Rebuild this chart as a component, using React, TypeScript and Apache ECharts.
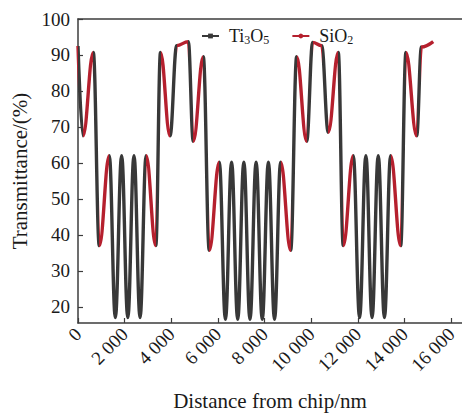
import React, { useEffect, useRef } from 'react';
import * as echarts from 'echarts';

// Turning points of the monitoring curve
const distanceNm = [0, 214, 656, 913, 1341, 1600, 1870, 2135, 2400, 2660, 2920, 3334, 3536, 3943, 4230, 4727, 4941, 5370, 5627, 6056, 6320, 6583, 6846, 7109, 7372, 7635, 7898, 8161, 8424, 8687, 9116, 9373, 9801, 10059, 10444, 10727, 11156, 11370, 11799, 12070, 12340, 12605, 12870, 13135, 13401, 13830, 14057, 14516, 14721, 15227];
const transmittance = [92.5, 67.5, 90.7, 37.0, 62.0, 17.0, 62.0, 17.0, 62.0, 17.0, 62.0, 37.0, 90.7, 67.5, 92.6, 93.7, 66.0, 89.5, 35.7, 60.2, 16.5, 60.2, 16.5, 60.2, 16.5, 60.2, 16.5, 60.2, 16.5, 60.2, 35.7, 89.5, 66.0, 93.5, 92.6, 68.5, 90.7, 37.0, 62.0, 17.0, 62.0, 17.0, 62.0, 17.0, 62.0, 37.0, 90.7, 67.5, 92.2, 93.7];

// Layer structure: index of the last turning point of each layer, and its material
const layerEndIndex = [1, 2, 3, 4, 10, 11, 12, 13, 14, 15, 16, 17, 18, 19, 29, 30, 31, 32, 33, 34, 35, 36, 37, 38, 44, 45, 46, 47, 48, 49];
const layerMaterial = ['Ti3O5', 'SiO2', 'Ti3O5', 'SiO2', 'Ti3O5', 'SiO2', 'Ti3O5', 'SiO2', 'Ti3O5', 'SiO2', 'Ti3O5', 'SiO2', 'Ti3O5', 'SiO2', 'Ti3O5', 'SiO2', 'Ti3O5', 'SiO2', 'Ti3O5', 'SiO2', 'Ti3O5', 'SiO2', 'Ti3O5', 'SiO2', 'Ti3O5', 'SiO2', 'Ti3O5', 'SiO2', 'Ti3O5', 'SiO2'];

const materials = ['Ti3O5', 'SiO2'];
const materialColor: Record<string, string> = { Ti3O5: '#383838', SiO2: '#b5202e' };
const materialSymbol: Record<string, string> = { Ti3O5: 'rect', SiO2: 'circle' };
const materialLabel: Record<string, string> = {
  Ti3O5: '{n|Ti}{s|3}{n|O}{s|5}',
  SiO2: '{n|SiO}{s|2}',
};

const xTickValues = [0, 2000, 4000, 6000, 8000, 10000, 12000, 14000, 16000];
const yTickValues = [20, 30, 40, 50, 60, 70, 80, 90, 100];

const FONT = '"Liberation Serif", "Times New Roman", serif';
const TEXT = '#1a1a1a';
const AXIS = '#3c3c3c';

function fmtThousands(v: number): string {
  if (v < 1000) return String(v);
  const k = Math.floor(v / 1000);
  const r = String(v % 1000).padStart(3, '0');
  return `${k} ${r}`;
}

export default function App() {
  const ref = useRef<HTMLDivElement>(null);
  useEffect(() => {
    document.body.style.margin = '0';
    if (!ref.current) return;
    const chart = echarts.init(ref.current, undefined, { renderer: 'svg' });

    const curve = distanceNm.map((d, i) => [d, transmittance[i]]);
    const pieces = layerEndIndex.map((endIdx, i) => {
      const startIdx = i === 0 ? 0 : layerEndIndex[i - 1];
      const p: any = { gte: distanceNm[startIdx], color: materialColor[layerMaterial[i]] };
      if (i === layerEndIndex.length - 1) p.lte = distanceNm[endIdx] + 1;
      else p.lt = distanceNm[endIdx];
      return p;
    });

    const option: any = {
      animation: false,
      textStyle: { fontFamily: FONT },
      grid: { left: 78, right: 0, top: 19, bottom: 80, containLabel: false },
      legend: {
        data: materials,
        left: 196,
        top: 22,
        itemWidth: 17,
        itemHeight: 6,
        itemGap: 22,
        selectedMode: false,
        formatter: (name: string) => materialLabel[name],
        textStyle: {
          fontFamily: FONT,
          color: TEXT,
          fontSize: 18,
          padding: [0, 0, 0, 5],
          rich: {
            n: { fontFamily: FONT, fontSize: 18, color: TEXT, lineHeight: 20 },
            s: { fontFamily: FONT, fontSize: 12, color: TEXT, lineHeight: 10, verticalAlign: 'bottom' },
          },
        },
      },
      visualMap: {
        type: 'piecewise',
        show: false,
        dimension: 0,
        seriesIndex: 0,
        pieces,
        outOfRange: { color: materialColor.SiO2 },
      },
      xAxis: [
        {
          type: 'value',
          min: 0,
          max: 16460,
          name: 'Distance from chip/nm',
          nameLocation: 'middle',
          nameGap: 67,
          nameTextStyle: { fontFamily: FONT, fontSize: 21, color: TEXT },
          axisLine: { show: true, lineStyle: { color: AXIS, width: 1.5 } },
          axisTick: { show: true, inside: true, length: 5, lineStyle: { color: AXIS, width: 1.2 }, customValues: xTickValues },
          axisLabel: {
            show: true,
            rotate: 45,
            margin: 8,
            fontFamily: FONT,
            fontSize: 19,
            color: TEXT,
            customValues: xTickValues,
            formatter: (v: number) => fmtThousands(v),
          },
          splitLine: { show: false },
        },
        {
          type: 'value',
          position: 'top',
          min: 0,
          max: 16460,
          axisLine: { show: true, onZero: false, lineStyle: { color: AXIS, width: 1.5 } },
          axisTick: { show: false },
          axisLabel: { show: false },
          splitLine: { show: false },
        },
      ],
      yAxis: {
        type: 'value',
        min: 15.5,
        max: 100,
        name: 'Transmittance/(%)',
        nameLocation: 'middle',
        nameGap: 47,
        nameTextStyle: { fontFamily: FONT, fontSize: 21, color: TEXT },
        axisLine: { show: true, lineStyle: { color: AXIS, width: 1.5 } },
        axisTick: { show: true, inside: true, length: 5, lineStyle: { color: AXIS, width: 1.2 }, customValues: yTickValues },
        axisLabel: { show: true, margin: 8, fontFamily: FONT, fontSize: 19, color: TEXT, customValues: yTickValues },
        splitLine: { show: false },
      },
      series: [
        {
          name: 'curve',
          type: 'line',
          data: curve,
          showSymbol: false,
          symbol: 'none',
          smooth: 0.4,
          smoothMonotone: 'x',
          lineStyle: { width: 3.4 },
          z: 3,
        },
        ...materials.map((m) => ({
          name: m,
          type: 'line',
          data: [],
          symbol: materialSymbol[m],
          symbolSize: 5,
          itemStyle: { color: materialColor[m] },
          lineStyle: { color: materialColor[m], width: 2 },
        })),
      ],
    };
    chart.setOption(option);
    return () => chart.dispose();
  }, []);
  return <div ref={ref} style={{ width: 462, height: 416 }} />;
}
